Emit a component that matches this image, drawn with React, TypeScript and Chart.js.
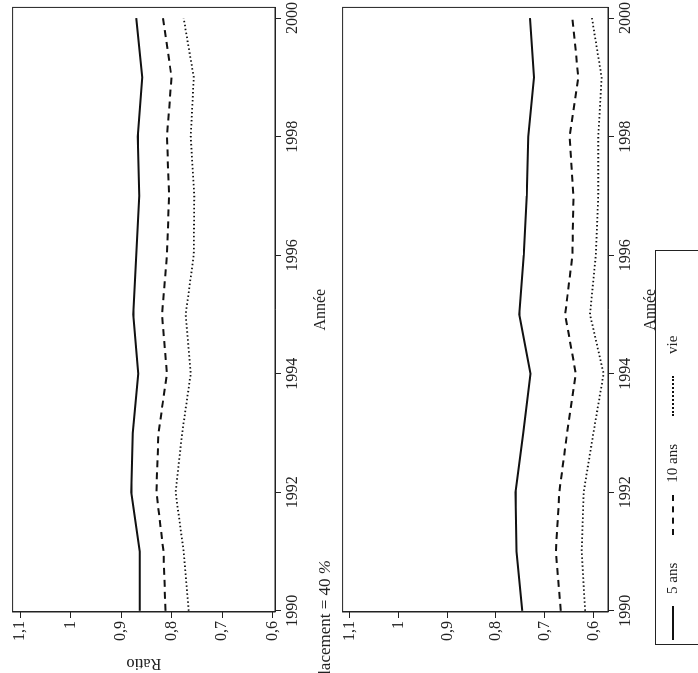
import React, { useEffect, useRef } from "react";
import { Chart, registerables } from "chart.js";
Chart.register(...registerables);

const years = [1990, 1991, 1992, 1993, 1994, 1995, 1996, 1997, 1998, 1999, 2000];
const p1_5ans = [0.863, 0.863, 0.880, 0.877, 0.866, 0.876, 0.870, 0.864, 0.867, 0.858, 0.870];
const p1_10ans = [0.812, 0.816, 0.830, 0.826, 0.809, 0.819, 0.809, 0.805, 0.809, 0.800, 0.817];
const p1_vie = [0.766, 0.776, 0.792, 0.779, 0.762, 0.772, 0.756, 0.755, 0.762, 0.756, 0.776];
const p2_5ans = [0.746, 0.758, 0.760, 0.744, 0.729, 0.752, 0.743, 0.737, 0.734, 0.722, 0.730];
const p2_10ans = [0.667, 0.677, 0.670, 0.654, 0.636, 0.658, 0.643, 0.641, 0.649, 0.631, 0.643];
const p2_vie = [0.617, 0.624, 0.620, 0.600, 0.579, 0.607, 0.595, 0.590, 0.590, 0.583, 0.603];
const yTicks = [0.6, 0.7, 0.8, 0.9, 1.0, 1.1];
const xTicks = [1990, 1992, 1994, 1996, 1998, 2000];

const FONT = "'Liberation Serif', serif";

const boxPlugin = {
  id: "box",
  afterDraw(chart: any) {
    const { ctx, chartArea: a } = chart;
    ctx.save();
    ctx.strokeStyle = "#222";
    ctx.lineWidth = 1;
    ctx.strokeRect(a.left, a.top, a.right - a.left, a.bottom - a.top);
    ctx.restore();
  },
};

function Panel({ d5, d10, dv, showRatio, yMin, yMax, xH }: { d5: number[]; d10: number[]; dv: number[]; showRatio: boolean; yMin: number; yMax: number; xH: number }) {
  const ref = useRef<HTMLCanvasElement>(null);
  useEffect(() => {
    const mk = (data: number[], dash: number[], w: number) => ({
      data: years.map((y, i) => ({ x: y, y: data[i] })),
      borderColor: "#111",
      borderWidth: w,
      borderDash: dash,
      pointRadius: 0,
      tension: 0,
      fill: false,
    });
    const chart = new Chart(ref.current!, {
      type: "line",
      data: { datasets: [mk(d5, [], 2), mk(d10, [7, 5], 2), mk(dv, [1.5, 2.5], 1.8)] as any },
      plugins: [boxPlugin],
      options: {
        animation: false,
        responsive: false,
        layout: { padding: { top: 10, right: 5, left: 0, bottom: 0 } },
        plugins: { legend: { display: false }, tooltip: { enabled: false } },
        scales: {
          x: {
            type: "linear",
            min: 1989.98,
            max: 2000.18,
            afterBuildTicks: (s: any) => { s.ticks = xTicks.map((v) => ({ value: v })); },
            afterFit: (s: any) => { s.height = xH; },
            grid: { drawOnChartArea: false, tickLength: 6, color: "#222" },
            border: { color: "#222" },
            ticks: { color: "#222", font: { family: FONT, size: 16 }, maxRotation: 0, padding: 2, callback: (v: any) => String(v) },
            title: { display: true, text: "Année", color: "#222", font: { family: FONT, size: 16 }, padding: 0 },
          },
          y: {
            min: yMin,
            max: yMax,
            afterBuildTicks: (s: any) => { s.ticks = yTicks.map((v) => ({ value: v })); },
            afterFit: (s: any) => { s.width = 61; },
            grid: { drawOnChartArea: false, tickLength: 6, color: "#222" },
            border: { color: "#222" },
            ticks: {
              color: "#222",
              font: { family: FONT, size: 16 },
              padding: 3,
              callback: (v: any) => String(Math.round(v * 10) / 10).replace(".", ","),
            },
            title: { display: showRatio, text: "Ratio", color: "#222", font: { family: FONT, size: 16 }, padding: 0 },
          },
        },
      } as any,
    });
    return () => chart.destroy();
  }, []);
  return <canvas ref={ref} width={673} height={330} style={{ display: "block", width: 673, height: 330 }} />;
}

function LegendItem({ style, label, lineW, gap }: { style: string; label: string; lineW: number; gap: number }) {
  return (
    <div style={{ display: "flex", alignItems: "center" }}>
      <div style={{ width: lineW, borderTop: `2px ${style} #111`, marginRight: gap }} />
      <span style={{ fontSize: 15 }}>{label}</span>
    </div>
  );
}

export default function App() {
  return (
    <div style={{ position: "fixed", left: 0, top: 0, width: 698, height: 673, overflow: "hidden", background: "#fff" }}>
      <div
        style={{
          position: "absolute",
          left: 0,
          top: 0,
          width: 673,
          height: 698,
          transform: "translateY(673px) rotate(-90deg)",
          transformOrigin: "0 0",
          fontFamily: FONT,
          color: "#222",
        }}
      >
        <div style={{ position: "absolute", left: 0, top: 0 }}>
          <Panel d5={p1_5ans} d10={p1_10ans} dv={p1_vie} showRatio={true} yMin={0.595} yMax={1.115} xH={55} />
        </div>
        <div style={{ position: "absolute", right: 560, top: 315, fontSize: 17, whiteSpace: "nowrap" }}>
          Taux de remplacement = 40 <i>%</i>
        </div>
        <div style={{ position: "absolute", left: 0, top: 330 }}>
          <Panel d5={p2_5ans} d10={p2_10ans} dv={p2_vie} showRatio={false} yMin={0.57} yMax={1.115} xH={52} />
        </div>
        <div
          style={{
            position: "absolute",
            left: 28,
            top: 655,
            width: 395,
            height: 60,
            border: "1px solid #222",
            boxSizing: "border-box",
            display: "flex",
            alignItems: "flex-start",
            paddingTop: 8,
            paddingLeft: 4,
            gap: 28,
          }}
        >
          <LegendItem style="solid" label="5 ans" lineW={34} gap={12} />
          <LegendItem style="dashed" label="10 ans" lineW={40} gap={12} />
          <LegendItem style="dotted" label="vie" lineW={40} gap={22} />
        </div>
      </div>
    </div>
  );
}
